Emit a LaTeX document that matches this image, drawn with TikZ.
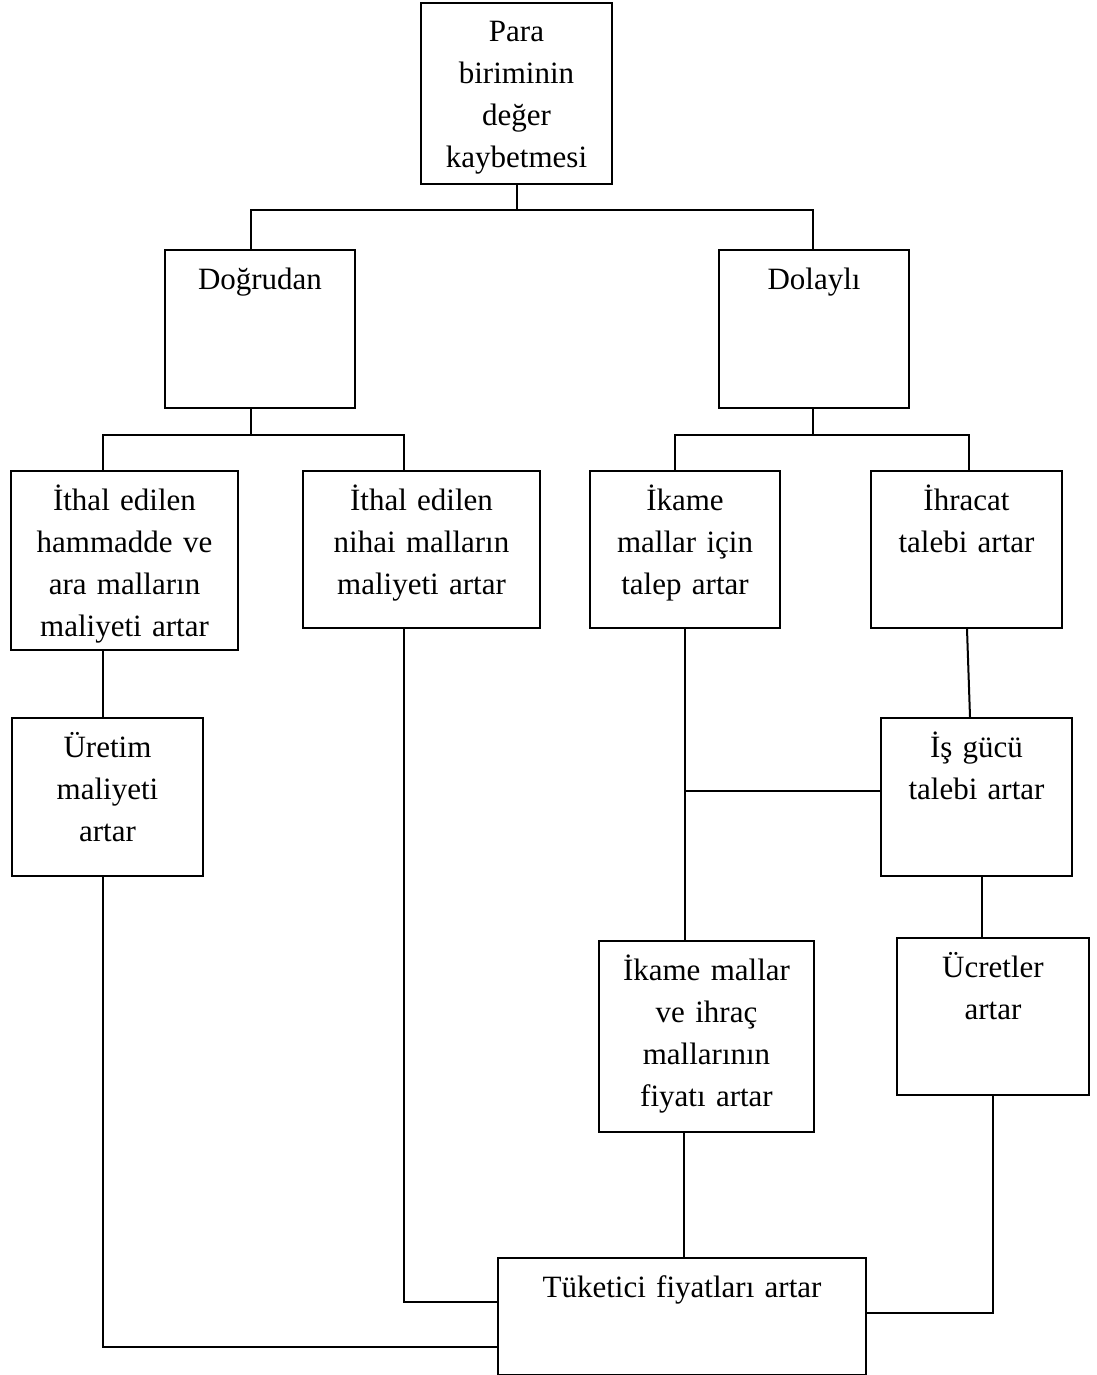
\documentclass[tikz,border=0pt]{standalone}
\usepackage{fontspec}
\setmainfont{Liberation Serif}[Ligatures=CommonOff]
\begin{document}
\begin{tikzpicture}[x=1pt,y=-1pt,
  boxst/.style={draw, line width=2pt, inner sep=0pt, anchor=north west},
  txt/.style={anchor=base, align=center, inner sep=0pt, font=\fontsize{31}{42}\selectfont},
  conn/.style={draw, line width=2pt}]
\useasboundingbox (0,0) rectangle (1096,1375);
% boxes
\node[boxst, minimum width=191pt, minimum height=181pt] (A) at (420,2) {};
\node[boxst, minimum width=190pt, minimum height=158pt] (B) at (164,249) {};
\node[boxst, minimum width=190pt, minimum height=158pt] (C) at (718,249) {};
\node[boxst, minimum width=227pt, minimum height=179pt] (D) at (10,470) {};
\node[boxst, minimum width=237pt, minimum height=157pt] (E) at (302,470) {};
\node[boxst, minimum width=190pt, minimum height=157pt] (F) at (589,470) {};
\node[boxst, minimum width=191pt, minimum height=157pt] (G) at (870,470) {};
\node[boxst, minimum width=191pt, minimum height=158pt] (H) at (11,717) {};
\node[boxst, minimum width=191pt, minimum height=158pt] (I) at (880,717) {};
\node[boxst, minimum width=215pt, minimum height=191pt] (J) at (598,940) {};
\node[boxst, minimum width=192pt, minimum height=157pt] (K) at (896,937) {};
\node[boxst, minimum width=368pt, minimum height=117pt] (L) at (497,1257) {};
% texts
\node[txt, text width=183pt] (At) at ([yshift=-40pt]A.north) {Para\\biriminin\\değer\\kaybetmesi};
\node[txt, text width=182pt] (Bt) at ([yshift=-40pt]B.north) {Doğrudan};
\node[txt, text width=182pt] (Ct) at ([yshift=-40pt]C.north) {Dolaylı};
\node[txt, text width=219pt] (Dt) at ([yshift=-40pt]D.north) {İthal edilen\\hammadde ve\\ara malların\\maliyeti artar};
\node[txt, text width=229pt] (Et) at ([yshift=-40pt]E.north) {İthal edilen\\nihai malların\\maliyeti artar};
\node[txt, text width=182pt] (Ft) at ([yshift=-40pt]F.north) {İkame\\mallar için\\talep artar};
\node[txt, text width=183pt] (Gt) at ([yshift=-40pt]G.north) {İhracat\\talebi artar};
\node[txt, text width=183pt] (Ht) at ([yshift=-40pt]H.north) {Üretim\\maliyeti\\artar};
\node[txt, text width=183pt] (It) at ([yshift=-40pt]I.north) {İş gücü\\talebi artar};
\node[txt, text width=207pt] (Jt) at ([yshift=-40pt]J.north) {İkame mallar\\ve ihraç\\mallarının\\fiyatı artar};
\node[txt, text width=184pt] (Kt) at ([yshift=-40pt]K.north) {Ücretler\\artar};
\node[txt, text width=360pt] (Lt) at ([yshift=-40pt]L.north) {Tüketici fiyatları artar};
% junction coordinates
\coordinate (hL1) at (251,210);
\coordinate (hR1) at (813,210);
\coordinate (j1L) at (103,435);
\coordinate (j1R) at (404,435);
\coordinate (j2L) at (675,435);
\coordinate (j2R) at (969,435);
\coordinate (k1) at (103,1347);
\coordinate (k2) at (404,1302);
\coordinate (m) at (685,791);
\coordinate (gA) at (967,627);
\coordinate (gB) at (970,717);
\coordinate (n) at (982,0);
\coordinate (p) at (684,0);
\coordinate (q) at (993,1313);
% connectors
\draw[conn] (A.south) |- (hL1) -- (B.north -| hL1);
\draw[conn] (A.south) |- (hR1) -- (C.north -| hR1);
\draw[conn] (B.south -| hL1) |- (j1L) -- (D.north -| j1L);
\draw[conn] (B.south -| hL1) |- (j1R) -- (E.north -| j1R);
\draw[conn] (C.south -| hR1) |- (j2L) -- (F.north -| j2L);
\draw[conn] (C.south -| hR1) |- (j2R) -- (G.north -| j2R);
\draw[conn] (D.south -| j1L) -- (H.north -| j1L);
\draw[conn] (H.south -| k1) -- (k1) -- (L.west |- k1);
\draw[conn] (E.south -| k2) -- (k2) -- (L.west |- k2);
\draw[conn] (F.south -| m) -- (J.north -| m);
\draw[conn] (m) -- (I.west |- m);
\draw[conn] (G.south -| gA) -- (I.north -| gB);
\draw[conn] (I.south -| n) -- (K.north -| n);
\draw[conn] (J.south -| p) -- (L.north -| p);
\draw[conn] (K.south -| q) -- (q) -- (L.east |- q);
\end{tikzpicture}
\end{document}
